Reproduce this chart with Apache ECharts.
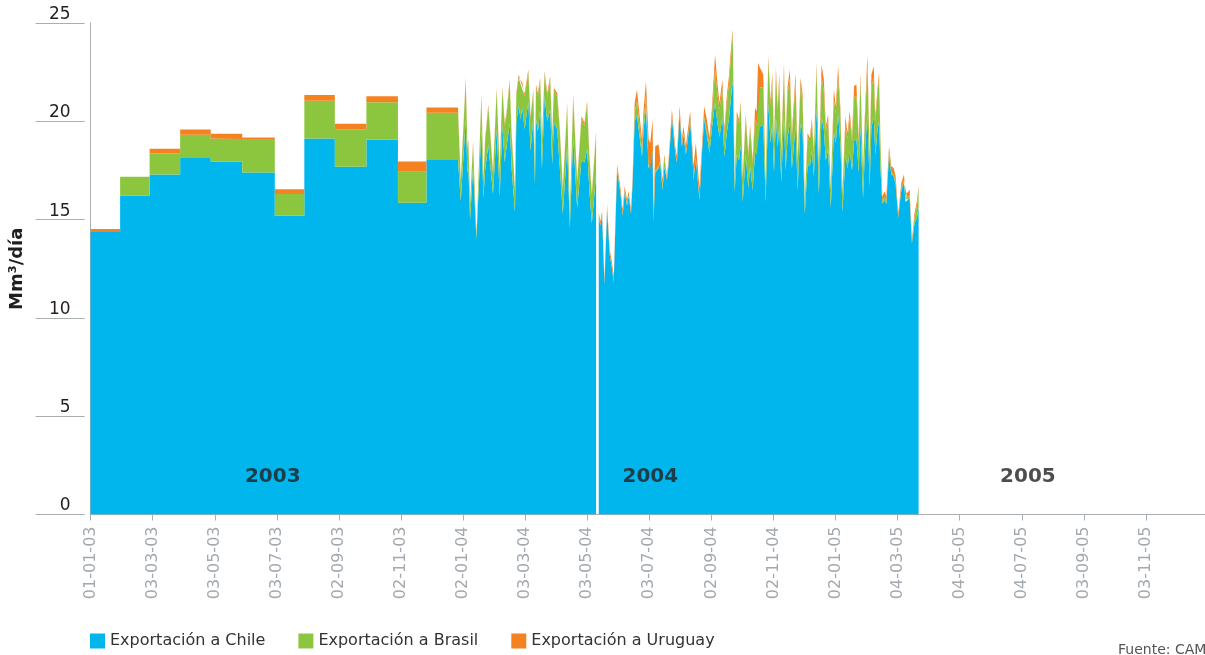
<!DOCTYPE html>
<html>
<head>
<meta charset="utf-8">
<script src="https://cdn.jsdelivr.net/npm/echarts@6/dist/echarts.min.js"></script>
<style>
html, body { margin: 0; padding: 0; background: #fff; }
#chart { width: 1205px; height: 655px; }
</style>
</head>
<body>
<div id="chart"></div>
<script>
// 2003: valores mensuales (escalones), inicio de cada mes en días desde 01-01-03
const mesesInicio = [0, 29, 58, 88, 118, 149, 181, 210, 240, 271, 302, 330, 361];
const chile2003 = [14.37, 16.23, 17.30, 18.17, 17.96, 17.39, 15.20, 19.12, 17.69, 19.07, 15.86, 18.07];
const brasil2003 = [0, 0.95, 1.06, 1.14, 1.16, 1.71, 1.10, 1.92, 1.90, 1.90, 1.58, 2.36];
const uruguay2003 = [0.15, 0, 0.25, 0.27, 0.25, 0.07, 0.24, 0.30, 0.29, 0.30, 0.52, 0.27];

// 2004-2005: valores diarios (días desde 01-01-03), null = corte
const dias = [
  363.7, 368.6, 370.3, 371.2, 372.9, 375.8, 379.1, 384, 386, 387.6,
  390.8, 395.4, 399, 402, 404.6, 406.9, 408.5, 411.8, 413.7, 417,
  418.3, 420.6, 422.5, 424.2, 426.5, 430.1, 432.3, 435, 436.6, 437.6,
  439.5, 441.8, 443.5, 446.1, 448.7, 451.6, 453.6, 455.2, 458.5, 461.1,
  464, 468.3, 470.9, 474.2, 478.1, 482.3, 485.3, 487.9, 490.2, 492.5,
  496.7, 497.8,
  499.3, 500.9, 502.6, 504.9, 507.5, 510.1, 512.4, 514, 517.3, 520.5,
  522.8, 524.8, 527.1, 528.7, 531, 532.6, 534.6, 536.9, 539.5, 541.8,
  543.4, 545.7, 548.3, 549.9, 552.2, 553.2, 554.8, 558.1, 559.7, 562,
  563.7, 566.3, 567.9, 571.2, 574.4, 576.1, 578.7, 581, 582.6, 584.9,
  589.1, 591.4, 592.4, 594.7, 598.3, 600.6, 602.9, 605.5, 608.1, 610.4,
  613.6, 615.9, 617.9, 620.8, 622.8, 625.1, 627.4, 629, 631, 632.9,
  634.9, 637.2, 638.8, 640.8, 643.7, 646.3, 648, 650.6, 652.9, 654.5,
  655.8,
  657.7, 661, 663.3, 665.9, 668.2, 669.8, 671.5, 673.4, 675.1, 676.7,
  678.6, 681.3, 682.9, 684.9, 687.1, 689.1, 692.7, 694.7, 697.6, 699.6,
  701.8, 704.5, 706.7, 708.7, 710.7, 713.3, 715.6, 718.2, 720.5, 722.4,
  724.7, 727.3, 730.3, 732.2, 734.5, 736.8, 738.8, 741.7, 743.7, 745.9,
  748.2, 750.2, 752.5, 754.8, 756.4, 759, 760.6, 763.3, 765.5, 767.2,
  769.5, 771.1, 773.1, 774.7, 776.3, 778, 780.2, 781.9, 784.5, 786.8,
  789.1, 791, 793.6, 796.6, 799.2, 800.8, 802.5, 804.8, 807, 809.6,
  811.9, 813.6
];
const chile = [
  15.93, 20.1, 17.4, 17.6, 15.0, 17.7, 14.0, 19.6, 16.1, 17.5,
  18.8, 16.3, 19.6, 16.2, 19.8, 17.9, 18.6, 19.9, 17.6, 15.4,
  19.9, 20.8, 20.1, 20.7, 19.6, 21.0, 18.5, 20.2, 16.8, 20.1,
  19.5, 20.6, 17.6, 21.3, 20.0, 20.6, 17.8, 19.9, 19.6, 17.6,
  15.3, 18.7, 14.6, 19.2, 15.6, 18.0, 17.9, 18.6, 16.4, 14.8,
  17.3, null,
  15.1, 14.7, 15.2, 11.7, 15.5, 13.2, 12.5, 11.8, 17.5, 16.4,
  15.2, 16.4, 15.7, 16.2, 15.3, 16.9, 20.0, 20.3, 19.2, 18.2,
  19.6, 20.7, 17.6, 17.5, 18.4, 14.9, 17.4, 17.6, 17.9, 16.5,
  17.7, 17.0, 17.8, 20.2, 18.4, 17.9, 20.4, 18.7, 19.3, 18.3,
  20.0, 18.3, 17.0, 18.1, 16.0, 18.3, 20.1, 19.3, 18.4, 19.6,
  20.95, 19.9, 19.2, 20.2, 18.2, 19.4, 20.2, 21.1, 22.1, 16.4,
  18.3, 18.0, 18.8, 15.9, 18.3, 16.6, 17.7, 16.5, 18.5, 18.3,
  19.77,
  19.7, 19.8, 15.9, 20.9, 18.9, 19.9, 17.4, 20.2, 18.7, 19.8,
  16.9, 20.3, 17.5, 19.2, 19.9, 17.6, 19.8, 16.5, 19.9, 19.5,
  15.3, 17.8, 17.7, 18.5, 17.2, 20.7, 16.3, 20.2, 19.6, 18.0,
  18.6, 15.6, 19.4, 18.9, 20.4, 18.8, 15.4, 18.3, 17.6, 18.5,
  17.5, 19.0, 19.1, 17.4, 19.8, 16.1, 18.2, 20.4, 16.7, 19.7,
  20.2, 18.3, 19.5, 20.0, 17.4, 15.8, 16.0, 15.8, 18.3, 17.3,
  17.2, 16.8, 15.1, 16.5, 16.9, 15.9, 16.0, 16.1, 13.8, 14.8,
  15.1, 15.6
];
const brasil = [
  1.0, 1.95, 1.2, 1.3, 0.75, 1.15, 0.18, 1.6, 0.9, 1.45,
  1.9, 1.05, 1.95, 1.22, 1.83, 1.88, 1.6, 2.06, 1.68, 1.1,
  1.38, 1.42, 1.78, 1.27, 1.7, 1.46, 1.62, 1.26, 0.8, 1.61,
  1.79, 1.45, 1.35, 1.08, 1.29, 1.53, 1.39, 1.65, 1.69, 1.84,
  1.2, 2.08, 0.63, 2.0, 1.31, 2.1, 1.88, 2.25, 1.69, 1.43,
  2.04, null,
  0.05, 0.03, 0.04, 0.02, 0.05, 0.03, 0.03, 0.02, 0.1, 0.08,
  0.06, 0.08, 0.07, 0.06, 0.05, 0.12, 0.5, 0.75, 0.55, 0.3,
  0.4, 0.6, 0.2, 0.1, 0.1, 0.05, 0.1, 0.1, 0.15, 0.25,
  0.4, 0.05, 0.05, 0.1, 0.05, 0.05, 0.1, 0.05, 0.1, 0.05,
  0.1, 0.05, 0.05, 0.05, 0.05, 0.05, 0.1, 0.2, 0.4, 0.7,
  1.7, 1.5, 1.4, 1.5, 1.1, 1.5, 1.8, 2.0, 2.3, 0.5,
  2.0, 1.9, 2.0, 1.15, 1.85, 1.62, 1.94, 1.39, 1.6, 1.5,
  2.0,
  2.05, 1.9, 0.8, 2.2, 1.9, 2.1, 1.5, 2.2, 1.85, 2.2,
  1.4, 2.3, 1.55, 2.2, 2.3, 1.6, 2.2, 1.35, 1.9, 1.5,
  0.6, 1.4, 1.3, 1.45, 1.2, 2.0, 1.25, 2.1, 1.9, 1.5,
  1.5, 0.9, 1.7, 1.5, 1.8, 1.55, 0.9, 1.5, 1.5, 1.7,
  1.5, 2.2, 2.2, 1.5, 2.3, 1.3, 1.6, 2.4, 1.35, 2.1,
  2.0, 1.7, 1.8, 2.2, 1.15, 0.15, 0.15, 0.12, 0.2, 0.15,
  0.1, 0.1, 0.05, 0.1, 0.1, 0.1, 0.1, 0.15, 0.05, 0.3,
  0.6, 0.9
];
const uruguay = [
  0.1, 0.16, 0.13, 0.17, 0.09, 0.13, 0.05, 0.16, 0.12, 0.12,
  0.15, 0.11, 0.15, 0.12, 0.15, 0.14, 0.14, 0.16, 0.13, 0.11,
  0.16, 0.16, 0.16, 0.15, 0.14, 0.17, 0.14, 0.15, 0.11, 0.16,
  0.15, 0.16, 0.12, 0.17, 0.15, 0.16, 0.13, 0.15, 0.15, 0.14,
  0.11, 0.15, 0.1, 0.16, 0.12, 0.16, 0.14, 0.17, 0.13, 0.12,
  0.15, null,
  0.19, 0.18, 0.18, 0.22, 0.21, 0.24, 0.26, 0.29, 0.2, 0.21,
  0.25, 0.21, 0.24, 0.18, 0.16, 0.18, 0.44, 0.57, 0.51, 0.57,
  0.6, 0.74, 1.27, 1.3, 1.59, 0.47, 1.23, 1.12, 0.85, 0.28,
  0.21, 0.15, 0.2, 0.3, 0.28, 0.27, 0.27, 0.32, 0.35, 0.38,
  0.41, 0.3, 0.66, 0.75, 0.56, 0.3, 0.57, 0.59, 0.35, 0.3,
  0.75, 0.55, 0.34, 0.42, 0.28, 0.38, 0.38, 0.47, 0.27, 0.13,
  0.21, 0.19, 0.22, 0.15, 0.19, 0.17, 0.19, 0.16, 0.58, 0.71,
  1.2,
  0.97, 0.68, 0.16, 0.21, 0.22, 0.46, 0.17, 0.32, 0.22, 0.38,
  0.18, 0.37, 0.19, 0.39, 0.43, 0.21, 0.46, 0.2, 0.41, 0.36,
  0.11, 0.21, 0.15, 0.22, 0.16, 0.27, 0.16, 0.59, 0.62, 0.25,
  0.24, 0.11, 0.52, 0.37, 0.6, 0.25, 0.14, 0.46, 0.31, 0.31,
  0.24, 0.59, 0.57, 0.17, 0.36, 0.14, 0.29, 0.6, 0.17, 0.58,
  0.6, 0.26, 0.32, 0.26, 0.18, 0.23, 0.29, 0.26, 0.23, 0.26,
  0.33, 0.3, 0.19, 0.26, 0.29, 0.27, 0.25, 0.27, 0.13, 0.24,
  0.23, 0.19
];

const anios = ['2003', '2004', '2005'];
const aniosDia = [179, 550, 921];
const aniosValor = 1.9;

const FONT = 'DejaVu Sans';
const GRIS = '#a9aeb3';

// pares [valor, dia]: el valor va primero para que el apilado sea sobre Y
function armarSerie(mensual, diario) {
  const out = [];
  for (let i = 0; i < mensual.length; i++) {
    out.push([mensual[i], mesesInicio[i]]);
    out.push([mensual[i], mesesInicio[i + 1]]);
  }
  for (let i = 0; i < dias.length; i++) {
    out.push([diario[i], dias[i]]);
  }
  return out;
}

function fecha(v) {
  const d = new Date(Date.UTC(2003, 0, 1) + Math.round(v) * 86400000);
  const p = n => (n < 10 ? '0' : '') + n;
  return p(d.getUTCDate()) + '-' + p(d.getUTCMonth() + 1) + '-' + p(d.getUTCFullYear() % 100);
}

function area(nombre, color, mensual, diario) {
  return {
    name: nombre,
    type: 'line',
    stack: 'total',
    symbol: 'none',
    color: color,
    encode: { x: 1, y: 0 },
    lineStyle: { width: 0, opacity: 0 },
    areaStyle: { color: color, opacity: 1 },
    connectNulls: false,
    data: armarSerie(mensual, diario)
  };
}

const chart = echarts.init(document.getElementById('chart'));

const option = {
  animation: false,
  textStyle: { fontFamily: FONT },
  grid: { left: 90.6, right: -3, top: 23, bottom: 140.5 },
  legend: {
    left: 90,
    top: 633,
    padding: 0,
    icon: 'rect',
    itemWidth: 15,
    itemHeight: 15,
    itemGap: 33,
    textStyle: { fontSize: 16, color: '#333', fontFamily: FONT },
    data: ['Exportación a Chile', 'Exportación a Brasil', 'Exportación a Uruguay']
  },
  xAxis: {
    type: 'value',
    min: 0,
    max: 1095,
    interval: 61,
    axisLine: { lineStyle: { color: GRIS } },
    axisTick: { length: 6, lineStyle: { color: GRIS } },
    axisLabel: {
      rotate: 90,
      margin: 12,
      color: '#a3a9ae',
      fontSize: 16,
      fontFamily: FONT,
      showMaxLabel: false,
      formatter: fecha
    },
    splitLine: { show: false }
  },
  yAxis: [
    {
      type: 'value',
      min: 0,
      max: 25,
      interval: 5,
      position: 'left',
      axisLine: { show: true, lineStyle: { color: GRIS } },
      axisTick: { show: false },
      axisLabel: { show: false },
      splitLine: { show: false },
      name: 'Mm³/día',
      nameLocation: 'middle',
      nameGap: 64,
      nameTextStyle: { fontSize: 18, fontWeight: 'bold', color: '#231f20', fontFamily: FONT }
    },
    {
      type: 'value',
      min: 0,
      max: 25,
      interval: 5,
      position: 'left',
      offset: 6,
      axisLine: { show: false },
      axisTick: { show: true, length: 49, lineStyle: { color: GRIS } },
      axisLabel: { margin: 14, fontSize: 17, color: '#231f20', verticalAlign: 'bottom', fontFamily: FONT },
      splitLine: { show: false }
    }
  ],
  series: [
    area('Exportación a Chile', '#00b6ed', chile2003, chile),
    area('Exportación a Brasil', '#8cc63e', brasil2003, brasil),
    area('Exportación a Uruguay', '#f58220', uruguay2003, uruguay),
    {
      type: 'scatter',
      symbolSize: 1,
      itemStyle: { color: 'rgba(0,0,0,0)' },
      silent: true,
      z: 10,
      label: {
        show: true,
        position: 'inside',
        formatter: p => p.name,
        fontSize: 20,
        fontWeight: 'bold',
        color: '#231f20',
        fontFamily: FONT
      },
      data: anios.map((a, i) => ({ name: a, value: [aniosDia[i], aniosValor] }))
    }
  ],
  graphic: [
    {
      type: 'text',
      left: 1118,
      top: 643,
      style: { text: 'Fuente: CAMMESA', fontSize: 14, fill: '#555', fontFamily: FONT }
    }
  ]
};

chart.setOption(option);
</script>
</body>
</html>
